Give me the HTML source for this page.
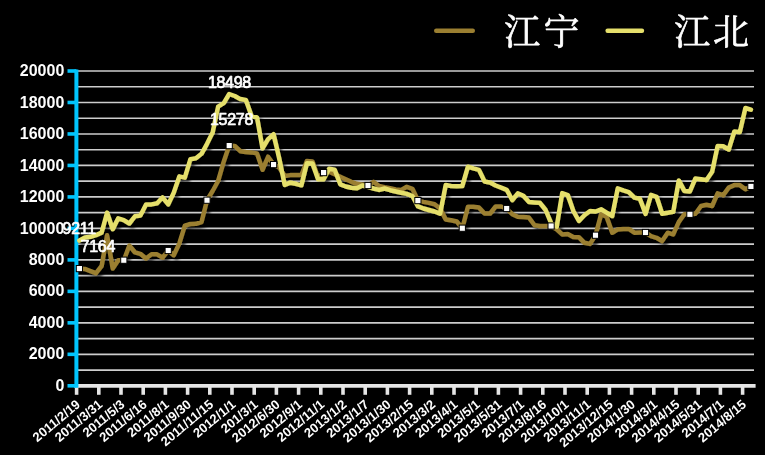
<!DOCTYPE html>
<html><head><meta charset="utf-8"><title>chart</title>
<style>
html,body{margin:0;padding:0;background:#000;}
body{width:765px;height:455px;overflow:hidden;font-family:"Liberation Sans",sans-serif;}
svg{display:block;}
text{font-family:"Liberation Sans",sans-serif;fill:#fff;}
.b{font-weight:bold;}
</style></head>
<body>
<svg width="765" height="455" viewBox="0 0 765 455">
<defs><filter id="sh" filterUnits="userSpaceOnUse" x="0" y="0" width="765" height="455"><feGaussianBlur in="SourceAlpha" stdDeviation="1.8"/><feOffset dx="3.2" dy="2.6" result="o"/><feComponentTransfer><feFuncA type="linear" slope="0.65"/></feComponentTransfer><feMerge><feMergeNode/><feMergeNode in="SourceGraphic"/></feMerge></filter></defs>
<rect width="765" height="455" fill="#000"/>
<g opacity="0.999">
<g stroke="#cecece" stroke-width="1.65">
<line x1="76.6" y1="370.06" x2="754" y2="370.06"/>
<line x1="76.6" y1="354.32" x2="754" y2="354.32"/>
<line x1="76.6" y1="338.58" x2="754" y2="338.58"/>
<line x1="76.6" y1="322.84" x2="754" y2="322.84"/>
<line x1="76.6" y1="307.10" x2="754" y2="307.10"/>
<line x1="76.6" y1="291.36" x2="754" y2="291.36"/>
<line x1="76.6" y1="275.62" x2="754" y2="275.62"/>
<line x1="76.6" y1="259.88" x2="754" y2="259.88"/>
<line x1="76.6" y1="244.14" x2="754" y2="244.14"/>
<line x1="76.6" y1="228.40" x2="754" y2="228.40"/>
<line x1="76.6" y1="212.66" x2="754" y2="212.66"/>
<line x1="76.6" y1="196.92" x2="754" y2="196.92"/>
<line x1="76.6" y1="181.18" x2="754" y2="181.18"/>
<line x1="76.6" y1="165.44" x2="754" y2="165.44"/>
<line x1="76.6" y1="149.70" x2="754" y2="149.70"/>
<line x1="76.6" y1="133.96" x2="754" y2="133.96"/>
<line x1="76.6" y1="118.22" x2="754" y2="118.22"/>
<line x1="76.6" y1="102.48" x2="754" y2="102.48"/>
<line x1="76.6" y1="86.74" x2="754" y2="86.74"/>
<line x1="76.6" y1="71.00" x2="754" y2="71.00"/>
</g>
<g stroke="#e6e6e6">
<line x1="74.4" y1="385.8" x2="755.6" y2="385.8" stroke-width="3.75"/>
<line x1="76.60" y1="385.8" x2="76.60" y2="394.8" stroke-width="3.6"/>
<line x1="98.80" y1="385.8" x2="98.80" y2="394.8" stroke-width="3.6"/>
<line x1="121.00" y1="385.8" x2="121.00" y2="394.8" stroke-width="3.6"/>
<line x1="143.20" y1="385.8" x2="143.20" y2="394.8" stroke-width="3.6"/>
<line x1="165.40" y1="385.8" x2="165.40" y2="394.8" stroke-width="3.6"/>
<line x1="187.60" y1="385.8" x2="187.60" y2="394.8" stroke-width="3.6"/>
<line x1="209.80" y1="385.8" x2="209.80" y2="394.8" stroke-width="3.6"/>
<line x1="232.00" y1="385.8" x2="232.00" y2="394.8" stroke-width="3.6"/>
<line x1="254.20" y1="385.8" x2="254.20" y2="394.8" stroke-width="3.6"/>
<line x1="276.40" y1="385.8" x2="276.40" y2="394.8" stroke-width="3.6"/>
<line x1="298.60" y1="385.8" x2="298.60" y2="394.8" stroke-width="3.6"/>
<line x1="320.80" y1="385.8" x2="320.80" y2="394.8" stroke-width="3.6"/>
<line x1="343.00" y1="385.8" x2="343.00" y2="394.8" stroke-width="3.6"/>
<line x1="365.20" y1="385.8" x2="365.20" y2="394.8" stroke-width="3.6"/>
<line x1="387.40" y1="385.8" x2="387.40" y2="394.8" stroke-width="3.6"/>
<line x1="409.60" y1="385.8" x2="409.60" y2="394.8" stroke-width="3.6"/>
<line x1="431.80" y1="385.8" x2="431.80" y2="394.8" stroke-width="3.6"/>
<line x1="454.00" y1="385.8" x2="454.00" y2="394.8" stroke-width="3.6"/>
<line x1="476.20" y1="385.8" x2="476.20" y2="394.8" stroke-width="3.6"/>
<line x1="498.40" y1="385.8" x2="498.40" y2="394.8" stroke-width="3.6"/>
<line x1="520.60" y1="385.8" x2="520.60" y2="394.8" stroke-width="3.6"/>
<line x1="542.80" y1="385.8" x2="542.80" y2="394.8" stroke-width="3.6"/>
<line x1="565.00" y1="385.8" x2="565.00" y2="394.8" stroke-width="3.6"/>
<line x1="587.20" y1="385.8" x2="587.20" y2="394.8" stroke-width="3.6"/>
<line x1="609.40" y1="385.8" x2="609.40" y2="394.8" stroke-width="3.6"/>
<line x1="631.60" y1="385.8" x2="631.60" y2="394.8" stroke-width="3.6"/>
<line x1="653.80" y1="385.8" x2="653.80" y2="394.8" stroke-width="3.6"/>
<line x1="676.00" y1="385.8" x2="676.00" y2="394.8" stroke-width="3.6"/>
<line x1="698.20" y1="385.8" x2="698.20" y2="394.8" stroke-width="3.6"/>
<line x1="720.40" y1="385.8" x2="720.40" y2="394.8" stroke-width="3.6"/>
<line x1="742.60" y1="385.8" x2="742.60" y2="394.8" stroke-width="3.6"/>
</g>
<g stroke="#00c6ff">
<line x1="76.4" y1="69.4" x2="76.4" y2="387.7" stroke-width="4"/>
<line x1="67.5" y1="385.80" x2="76.4" y2="385.80" stroke-width="3.6"/>
<line x1="67.5" y1="354.32" x2="76.4" y2="354.32" stroke-width="3.6"/>
<line x1="67.5" y1="322.84" x2="76.4" y2="322.84" stroke-width="3.6"/>
<line x1="67.5" y1="291.36" x2="76.4" y2="291.36" stroke-width="3.6"/>
<line x1="67.5" y1="259.88" x2="76.4" y2="259.88" stroke-width="3.6"/>
<line x1="67.5" y1="228.40" x2="76.4" y2="228.40" stroke-width="3.6"/>
<line x1="67.5" y1="196.92" x2="76.4" y2="196.92" stroke-width="3.6"/>
<line x1="67.5" y1="165.44" x2="76.4" y2="165.44" stroke-width="3.6"/>
<line x1="67.5" y1="133.96" x2="76.4" y2="133.96" stroke-width="3.6"/>
<line x1="67.5" y1="102.48" x2="76.4" y2="102.48" stroke-width="3.6"/>
<line x1="67.5" y1="71.00" x2="76.4" y2="71.00" stroke-width="3.6"/>
</g>
<g class="b" font-size="16" text-anchor="end">
<text x="64.3" y="390.90">0</text>
<text x="64.3" y="359.42">2000</text>
<text x="64.3" y="327.94">4000</text>
<text x="64.3" y="296.46">6000</text>
<text x="64.3" y="264.98">8000</text>
<text x="64.3" y="233.50">10000</text>
<text x="64.3" y="202.02">12000</text>
<text x="64.3" y="170.54">14000</text>
<text x="64.3" y="139.06">16000</text>
<text x="64.3" y="107.58">18000</text>
<text x="64.3" y="76.10">20000</text>
</g>
<g class="b" font-size="13" text-anchor="end">
<text transform="translate(81.10,405.8) rotate(-40)">2011/2/19</text>
<text transform="translate(103.30,405.8) rotate(-40)">2011/3/31</text>
<text transform="translate(125.50,405.8) rotate(-40)">2011/5/3</text>
<text transform="translate(147.70,405.8) rotate(-40)">2011/6/16</text>
<text transform="translate(169.90,405.8) rotate(-40)">2011/8/1</text>
<text transform="translate(192.10,405.8) rotate(-40)">2011/9/30</text>
<text transform="translate(214.30,405.8) rotate(-40)">2011/11/15</text>
<text transform="translate(236.50,405.8) rotate(-40)">2012/1/1</text>
<text transform="translate(258.70,405.8) rotate(-40)">201/3/1</text>
<text transform="translate(280.90,405.8) rotate(-40)">2012/6/30</text>
<text transform="translate(303.10,405.8) rotate(-40)">2012/9/1</text>
<text transform="translate(325.30,405.8) rotate(-40)">2012/11/1</text>
<text transform="translate(347.50,405.8) rotate(-40)">2013/1/2</text>
<text transform="translate(369.70,405.8) rotate(-40)">2013/1/7</text>
<text transform="translate(391.90,405.8) rotate(-40)">2013/1/30</text>
<text transform="translate(414.10,405.8) rotate(-40)">2013/2/15</text>
<text transform="translate(436.30,405.8) rotate(-40)">2013/3/2</text>
<text transform="translate(458.50,405.8) rotate(-40)">2013/4/1</text>
<text transform="translate(480.70,405.8) rotate(-40)">2013/5/1</text>
<text transform="translate(502.90,405.8) rotate(-40)">2013/5/31</text>
<text transform="translate(525.10,405.8) rotate(-40)">2013/7/1</text>
<text transform="translate(547.30,405.8) rotate(-40)">2013/8/16</text>
<text transform="translate(569.50,405.8) rotate(-40)">2013/10/1</text>
<text transform="translate(591.70,405.8) rotate(-40)">2013/11/1</text>
<text transform="translate(613.90,405.8) rotate(-40)">2013/12/15</text>
<text transform="translate(636.10,405.8) rotate(-40)">2014/1/30</text>
<text transform="translate(658.30,405.8) rotate(-40)">2014/3/1</text>
<text transform="translate(680.50,405.8) rotate(-40)">2014/4/15</text>
<text transform="translate(702.70,405.8) rotate(-40)">2014/5/31</text>
<text transform="translate(724.90,405.8) rotate(-40)">2014/7/1</text>
<text transform="translate(747.10,405.8) rotate(-40)">2014/8/15</text>
</g>
<g fill="none" stroke-width="4.5" stroke-linejoin="round" stroke-linecap="round" filter="url(#sh)">
<polyline stroke="#9c8032" points="79.4,268.6 84.9,268.9 90.5,271.1 96.0,273.2 101.6,266.0 107.1,235.3 112.7,268.6 118.2,260.2 123.8,260.2 129.3,245.5 134.9,252.3 140.4,253.8 146.0,258.5 151.5,254.3 157.1,254.3 162.6,257.7 168.2,250.5 173.7,255.2 179.3,243.5 184.8,225.6 190.4,224.0 195.9,223.8 201.5,222.0 207.0,200.2 212.6,191.0 218.1,181.0 223.7,161.7 229.2,145.6 234.8,145.9 240.3,151.2 245.9,152.0 251.4,152.4 257.0,153.4 262.5,169.8 268.1,156.7 273.6,164.6 279.2,167.5 284.7,176.0 290.3,175.1 295.8,175.1 301.4,175.1 306.9,160.9 312.5,161.4 318.0,177.6 323.6,172.6 329.1,171.8 334.7,174.3 340.2,176.8 345.8,179.3 351.3,181.8 356.9,183.8 362.4,184.6 368.0,185.5 373.5,181.8 379.1,186.0 384.6,187.2 390.2,188.2 395.7,189.4 401.3,189.9 406.8,186.8 412.4,188.8 417.9,200.6 423.5,201.9 429.0,202.9 434.6,204.3 440.1,208.5 445.7,219.4 451.2,220.2 456.8,221.5 462.3,228.2 467.9,206.8 473.4,206.8 479.0,207.6 484.5,213.5 490.1,213.5 495.6,206.5 501.2,206.5 506.7,208.5 512.3,214.3 517.8,216.8 523.4,217.0 528.9,217.5 534.5,225.2 540.0,226.0 545.6,226.0 551.1,226.0 556.7,229.4 562.2,234.4 567.8,233.9 573.3,236.9 578.9,237.2 584.4,242.8 590.0,243.9 595.5,235.2 601.1,214.3 606.6,216.8 612.2,232.7 617.7,229.4 623.3,228.9 628.8,228.9 634.4,232.7 639.9,232.5 645.5,232.5 651.0,236.1 656.6,237.8 662.1,241.1 667.7,232.7 673.2,234.4 678.8,221.9 684.3,214.3 689.9,214.3 695.4,213.8 701.0,206.0 706.5,204.8 712.1,206.0 717.6,193.4 723.2,195.1 728.7,187.6 734.3,185.1 739.8,185.1 745.4,189.2 750.9,186.4"/>
<polyline stroke="#e6e06c" points="79.4,240.6 84.9,237.6 90.5,236.8 96.0,235.1 101.6,232.6 107.1,212.6 112.7,229.2 118.2,218.3 123.8,220.1 129.3,223.5 134.9,216.3 140.4,215.5 146.0,204.4 151.5,204.4 157.1,203.2 162.6,197.3 168.2,204.4 173.7,192.7 179.3,176.4 184.8,177.6 190.4,159.2 195.9,158.2 201.5,153.8 207.0,143.8 212.6,132.5 218.1,106.6 223.7,103.2 229.2,94.0 234.8,96.0 240.3,99.1 245.9,99.9 251.4,115.8 257.0,117.5 262.5,148.4 268.1,139.2 273.6,134.2 279.2,158.5 284.7,185.0 290.3,182.7 295.8,183.8 301.4,185.3 306.9,163.2 312.5,163.6 318.0,179.3 323.6,179.3 329.1,168.8 334.7,169.8 340.2,184.3 345.8,186.5 351.3,187.7 356.9,188.2 362.4,185.5 368.0,186.8 373.5,188.5 379.1,189.9 384.6,188.5 390.2,190.2 395.7,191.5 401.3,192.7 406.8,193.9 412.4,196.0 417.9,206.4 423.5,208.5 429.0,210.0 434.6,211.5 440.1,213.7 445.7,185.0 451.2,186.0 456.8,186.2 462.3,186.0 467.9,166.7 473.4,168.4 479.0,169.9 484.5,181.5 490.1,182.6 495.6,185.5 501.2,187.6 506.7,189.8 512.3,200.2 517.8,193.3 523.4,195.7 528.9,202.0 534.5,202.4 540.0,202.8 545.6,210.0 551.1,223.2 556.7,226.6 562.2,193.1 567.8,195.1 573.3,211.0 578.9,221.0 584.4,215.2 590.0,211.0 595.5,211.5 601.1,209.3 606.6,212.6 612.2,216.0 617.7,188.4 623.3,190.4 628.8,192.1 634.4,197.6 639.9,198.8 645.5,214.0 651.0,194.8 656.6,196.8 662.1,213.8 667.7,212.7 673.2,211.8 678.8,180.4 684.3,190.9 689.9,191.4 695.4,178.4 701.0,179.2 706.5,180.0 712.1,171.7 717.6,145.9 723.2,146.2 728.7,149.5 734.3,131.5 739.8,132.0 745.4,108.0 750.9,109.7"/>
</g>
<g fill="#fff" stroke="#000" stroke-width="1">
<rect x="76.3" y="265.5" width="6.2" height="6.2"/>
<rect x="120.7" y="257.1" width="6.2" height="6.2"/>
<rect x="165.1" y="247.4" width="6.2" height="6.2"/>
<rect x="203.9" y="197.1" width="6.2" height="6.2"/>
<rect x="226.1" y="142.5" width="6.2" height="6.2"/>
<rect x="270.5" y="161.5" width="6.2" height="6.2"/>
<rect x="320.5" y="169.5" width="6.2" height="6.2"/>
<rect x="364.9" y="182.4" width="6.2" height="6.2"/>
<rect x="414.8" y="197.5" width="6.2" height="6.2"/>
<rect x="459.2" y="225.1" width="6.2" height="6.2"/>
<rect x="503.6" y="205.4" width="6.2" height="6.2"/>
<rect x="548.0" y="222.9" width="6.2" height="6.2"/>
<rect x="592.4" y="232.1" width="6.2" height="6.2"/>
<rect x="642.4" y="229.4" width="6.2" height="6.2"/>
<rect x="686.8" y="211.2" width="6.2" height="6.2"/>
<rect x="747.8" y="183.3" width="6.2" height="6.2"/>
</g>
<g font-size="16" text-anchor="middle" stroke="#fff" stroke-width="0.7" stroke-linejoin="round" letter-spacing="-0.3">
<text x="229.4" y="87.5">18498</text>
<text x="231.5" y="125.1">15278</text>
<text x="79.2" y="233.8">9211</text>
<text x="97.8" y="252.0">7164</text>
</g>
<g stroke-width="4.4" stroke-linecap="round">
<line x1="436.2" y1="30.8" x2="472.8" y2="30.8" stroke="#9c8032"/>
<line x1="607.6" y1="30.8" x2="642.0" y2="30.8" stroke="#e6e06c"/>
</g>
<g fill="#fff" stroke="#fff" stroke-width="0.7" stroke-linejoin="round" font-size="36">
<text x="504.2 543.4" y="45.3" style="font-family:'Liberation Serif','Noto Serif CJK SC',serif;">江宁</text>
<text x="674.2 713.1" y="45.3" style="font-family:'Liberation Serif','Noto Serif CJK SC',serif;">江北</text>
</g>
</g>
</svg>
</body></html>
